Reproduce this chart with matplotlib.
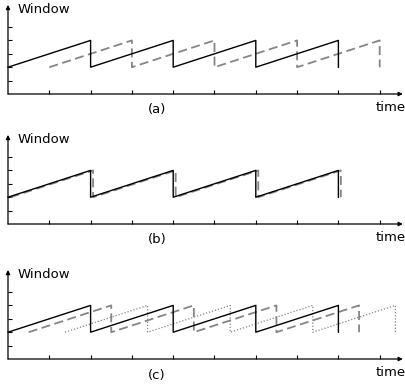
import matplotlib.pyplot as plt

plt.rcParams['font.family'] = ['DejaVu Sans']

# Vértices de las curvas de ventana (tiempo, ventana)
solid_t = [0, 2, 2, 4, 4, 6, 6, 8, 8]
solid_w = [2, 4, 2, 4, 2, 4, 2, 4, 2]

a_dash_t = [1, 3, 3, 5, 5, 7, 7, 9, 9]
a_dash_w = [2, 4, 2, 4, 2, 4, 2, 4, 2]

b_dash_t = [0.06, 2.06, 2.06, 4.06, 4.06, 6.06, 6.06, 8.06, 8.06]
b_dash_w = [2, 4, 2, 4, 2, 4, 2, 4, 2]

c_dash_t = [0.5, 2.5, 2.5, 4.5, 4.5, 6.5, 6.5, 8.5, 8.5]
c_dash_w = [2, 4, 2, 4, 2, 4, 2, 4, 2]

c_dot_t = [1.38, 3.38, 3.38, 5.38, 5.38, 7.38, 7.38, 9.38, 9.38]
c_dot_w = [2, 4, 2, 4, 2, 4, 2, 4, 2]

x_ticks = [1, 2, 3, 4, 5, 6, 7, 8, 9]
y_ticks = [1, 2, 3, 4, 5]
panel_labels = ['(a)', '(b)', '(c)']

W, H = 406, 385
fig = plt.figure(figsize=(W / 100, H / 100), dpi=100)

x0 = 8.0          # px del eje y
ux, uy = 41.3, 13.4  # px por unidad
xmax, ymax = 9.56, 6.65
axis_rows = [94, 224, 359]  # px (desde arriba) del eje x

gray = '#858585'

for i, row in enumerate(axis_rows):
    left = x0 / W
    bottom = (H - row) / H
    ax = fig.add_axes([left, bottom, xmax * ux / W, ymax * uy / H])
    ax.set_xlim(0, xmax)
    ax.set_ylim(0, ymax)
    for s in ax.spines.values():
        s.set_visible(False)
    ax.set_xticks(x_ticks)
    ax.set_yticks(y_ticks)
    ax.tick_params(direction='in', length=3, width=0.8, labelbottom=False, labelleft=False)
    ax.patch.set_alpha(0)

    # ejes con flechas
    ax.annotate('', xy=(xmax, 0), xytext=(0, 0), annotation_clip=False,
                arrowprops=dict(arrowstyle='-|>', lw=0.9, color='black',
                                mutation_scale=6, shrinkA=0, shrinkB=0))
    ax.annotate('', xy=(0, ymax), xytext=(0, 0), annotation_clip=False,
                arrowprops=dict(arrowstyle='-|>', lw=0.9, color='black',
                                mutation_scale=6, shrinkA=0, shrinkB=0))

    if i == 0:
        ax.plot(a_dash_t, a_dash_w, color=gray, lw=1.3, dashes=(5, 2.5), clip_on=False)
    elif i == 1:
        ax.plot(b_dash_t, b_dash_w, color=gray, lw=1.3, dashes=(5, 2.5), clip_on=False)
    else:
        ax.plot(c_dot_t, c_dot_w, color=gray, lw=0.9, linestyle=(0, (1, 1.5)), clip_on=False)
        ax.plot(c_dash_t, c_dash_w, color=gray, lw=1.3, dashes=(5, 2.5), clip_on=False)
    ax.plot(solid_t, solid_w, color='black', lw=1.0, clip_on=False)

    ax.text((18 - x0) / ux, 81 / uy, 'Window', fontsize=9.5, ha='left', va='baseline')
    ax.text((376 - x0) / ux, -17 / uy, 'time', fontsize=9.5, ha='left', va='baseline')
    ax.text((157 - x0) / ux, -16 / uy, panel_labels[i], fontsize=9.5, ha='center', va='center')

plt.savefig('out.png', dpi=100, facecolor='white')
